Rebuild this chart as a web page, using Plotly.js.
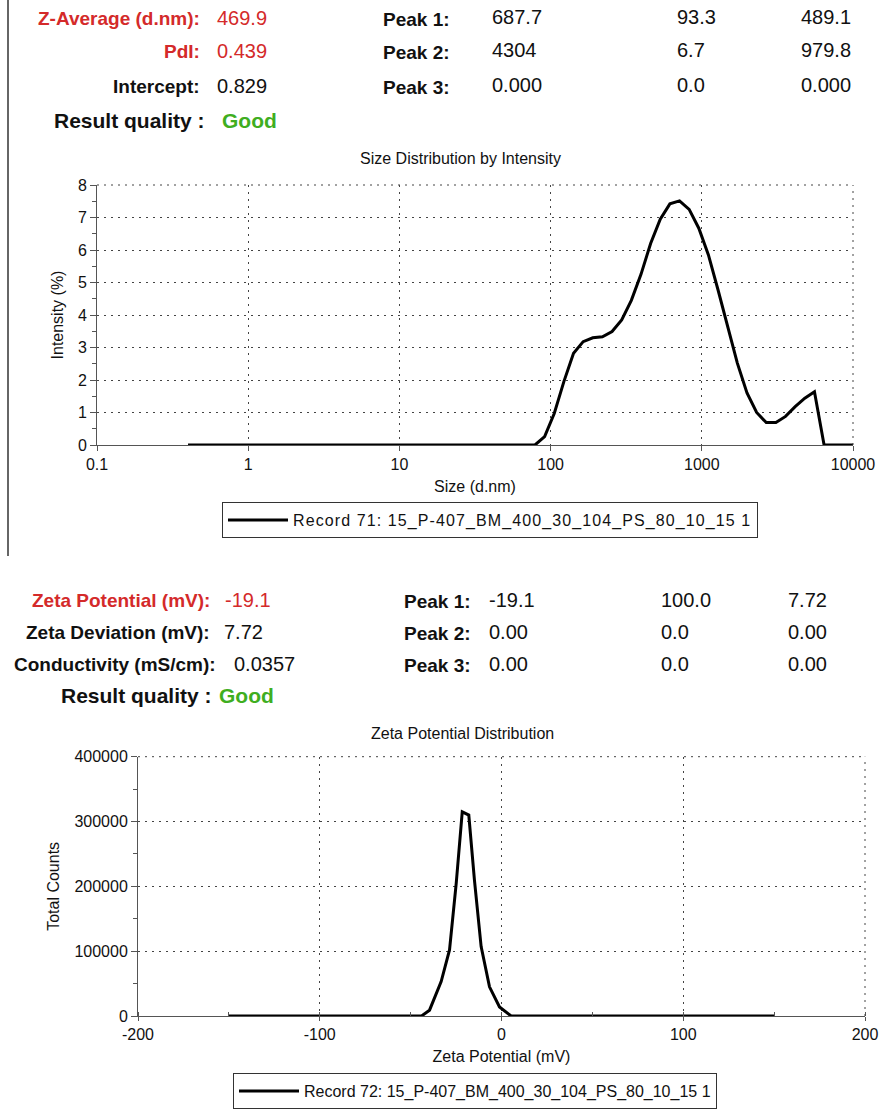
<!DOCTYPE html>
<html>
<head>
<meta charset="utf-8">
<script src="https://cdn.plot.ly/plotly-3.0.1.min.js"></script>
<style>
  html, body { margin: 0; padding: 0; background: #fff; }
  #chart { width: 881px; height: 1111px; }
  /* record captions in the legends are set with a little extra tracking */
  .legendtext { letter-spacing: 1.1px; }
</style>
</head>
<body>
<div id="chart"></div>
<script>
// ---- Size distribution (DLS) ----
const sizeNm = [0.4, 78.82, 91.28, 105.7, 122.4, 141.8, 164.2, 190.1, 220.2, 255.0,
  295.3, 342.0, 396.1, 458.7, 531.2, 615.1, 712.4, 825.0, 955.4, 1106,
  1281, 1484, 1718, 1990, 2305, 2669, 3091, 3580, 4145, 4801,
  5560, 6439, 7456, 8635, 10000];
const intensityPct = [0, 0, 0.26, 0.97, 1.95, 2.82, 3.18, 3.30, 3.33, 3.49,
  3.85, 4.45, 5.25, 6.2, 6.95, 7.42, 7.51, 7.25, 6.67, 5.85,
  4.77, 3.64, 2.52, 1.6, 1.0, 0.69, 0.69, 0.88, 1.18, 1.44,
  1.64, 0, 0, 0, 0];
const sizeTickVals = [0.1, 1, 10, 100, 1000, 10000];
const sizeTickText = ['0.1', '1', '10', '100', '1000', '10000'];
const sizeRecord = 'Record 71: 15_P-407_BM_400_30_104_PS_80_10_15 1';

// ---- Zeta potential distribution ----
const zetaMv = [-150, -44, -39.6, -33.2, -28.6, -24.9, -21.6, -18.0, -14.9, -11.2, -6.6, -1.1, 5.3, 150];
const totalCounts = [0, 0, 9000, 53000, 102000, 205000, 315000, 310000, 210000, 107000, 45000, 14000, 0, 0];
const zetaTickVals = [-200, -100, 0, 100, 200];
const zetaTickText = ['-200', '-100', '0', '100', '200'];
const zetaRecord = 'Record 72: 15_P-407_BM_400_30_104_PS_80_10_15 1';

// ---- Summary tables ----
const sizeSummaryLabels = ['Z-Average (d.nm):', 'PdI:', 'Intercept:'];
const sizeSummaryValues = ['469.9', '0.439', '0.829'];
const sizeSummaryRed = [true, true, false];
const sizePeakNames = ['Peak 1:', 'Peak 2:', 'Peak 3:'];
const sizePeakMean = ['687.7', '4304', '0.000'];
const sizePeakPct = ['93.3', '6.7', '0.0'];
const sizePeakWidth = ['489.1', '979.8', '0.000'];

const zetaSummaryLabels = ['Zeta Potential (mV):', 'Zeta Deviation (mV):', 'Conductivity (mS/cm):'];
const zetaSummaryValues = ['-19.1', '7.72', '0.0357'];
const zetaSummaryRed = [true, false, false];
const zetaPeakNames = ['Peak 1:', 'Peak 2:', 'Peak 3:'];
const zetaPeakMean = ['-19.1', '0.00', '0.00'];
const zetaPeakPct = ['100.0', '0.0', '0.0'];
const zetaPeakWidth = ['7.72', '0.00', '0.00'];

const qualityLabel = 'Result quality :';
const qualityValue = 'Good';

const W = 881, H = 1111;
const RED = '#d42a2a', GREEN = '#3fae1f', INK = '#111';
const SANS = '"Liberation Sans", Arial, Helvetica, sans-serif';
const LABEL_SIZE = 19, VALUE_SIZE = 20, QUALITY_SIZE = 21;

const px = x => x / W;
const py = y => 1 - y / H;

const annotations = [];
function label(text, x, y, anchor, opts) {
  opts = opts || {};
  annotations.push({
    xref: 'paper', yref: 'paper', x: px(x), y: py(y),
    xanchor: anchor, yanchor: 'middle', showarrow: false, text: text,
    font: { family: SANS, size: opts.size || VALUE_SIZE, color: opts.color || INK }
  });
}
const bold = t => '<b>' + t + '</b>';

// Size summary block
const sizeRowsY = [18, 51, 86];
sizeSummaryLabels.forEach((t, i) => {
  const c = sizeSummaryRed[i] ? RED : INK;
  label(bold(t), 202, sizeRowsY[i], 'right', { color: c, size: LABEL_SIZE });
  label(sizeSummaryValues[i], 215, sizeRowsY[i], 'left', { color: c });
  label(bold(sizePeakNames[i]), 381, sizeRowsY[i] + 2, 'left', { size: LABEL_SIZE });
  label(sizePeakMean[i], 490, sizeRowsY[i] - 1, 'left');
  label(sizePeakPct[i], 675, sizeRowsY[i] - 1, 'left');
  label(sizePeakWidth[i], 799, sizeRowsY[i] - 1, 'left');
});
label(bold(qualityLabel), 207, 121, 'right', { size: QUALITY_SIZE });
label(bold(qualityValue), 220, 121, 'left', { color: GREEN, size: QUALITY_SIZE });

// Zeta summary block
const zetaRowsY = [600, 632, 664];
const zetaLabelEnd = [212, 212, 218];
const zetaValueStart = [223, 222, 232];
zetaSummaryLabels.forEach((t, i) => {
  const c = zetaSummaryRed[i] ? RED : INK;
  label(bold(t), zetaLabelEnd[i], zetaRowsY[i], 'right', { color: c, size: LABEL_SIZE });
  label(zetaSummaryValues[i], zetaValueStart[i], zetaRowsY[i], 'left', { color: c });
  label(bold(zetaPeakNames[i]), 402, zetaRowsY[i] + 1, 'left', { size: LABEL_SIZE });
  label(zetaPeakMean[i], 487, zetaRowsY[i], 'left');
  label(zetaPeakPct[i], 659, zetaRowsY[i], 'left');
  label(zetaPeakWidth[i], 786, zetaRowsY[i], 'left');
});
label(bold(qualityLabel), 214, 695, 'right', { size: QUALITY_SIZE });
label(bold(qualityValue), 217, 695, 'left', { color: GREEN, size: QUALITY_SIZE });

// Plot titles
label('Size Distribution by Intensity', 460, 158, 'center', { size: 16 });
label('Zeta Potential Distribution', 462, 733, 'center', { size: 16 });

const DOTS = '2px,5px';
const gridStyle = { showgrid: true, gridcolor: '#444', gridwidth: 1, griddash: DOTS };
const axisLine = { showline: true, linecolor: '#555', linewidth: 1, tickcolor: '#555', zeroline: false };
const tickFont = { family: SANS, size: 16, color: INK };
const titleFont = { family: SANS, size: 16, color: INK };

const traces = [
  {
    x: sizeNm, y: intensityPct, type: 'scatter', mode: 'lines', name: sizeRecord,
    line: { color: '#000', width: 3 }, xaxis: 'x', yaxis: 'y', legend: 'legend'
  },
  {
    x: zetaMv, y: totalCounts, type: 'scatter', mode: 'lines', name: zetaRecord,
    line: { color: '#000', width: 3 }, xaxis: 'x2', yaxis: 'y2', legend: 'legend2'
  }
];

const legendBase = {
  xanchor: 'left', yanchor: 'bottom', bgcolor: '#fff', bordercolor: '#333', borderwidth: 1,
  font: { family: SANS, size: 16, color: INK }, itemwidth: 60, tracegroupgap: 0
};

// dotted frame edges along the top and right of each plot area
function frameEdges(xr, yr) {
  const line = { color: '#444', width: 1, dash: DOTS };
  return [
    { type: 'line', xref: xr + ' domain', yref: yr + ' domain', x0: 0, x1: 1, y0: 1, y1: 1, line: line },
    { type: 'line', xref: xr + ' domain', yref: yr + ' domain', x0: 1, x1: 1, y0: 0, y1: 1, line: line }
  ];
}

const layout = {
  width: W, height: H,
  margin: { l: 0, r: 0, t: 0, b: 0, autoexpand: false },
  paper_bgcolor: '#fff', plot_bgcolor: '#fff',
  font: { family: SANS, size: 15, color: INK },
  showlegend: true,
  legend: Object.assign({ x: px(222), y: py(538) }, legendBase),
  legend2: Object.assign({ x: px(233), y: py(1109) }, legendBase),
  xaxis: Object.assign({
    domain: [px(97), px(853)], anchor: 'y', type: 'log', range: [-1, 4],
    tickmode: 'array', tickvals: sizeTickVals, ticktext: sizeTickText,
    ticks: 'outside', ticklen: 5, tickfont: tickFont,
    title: { text: 'Size (d.nm)', font: titleFont, standoff: 8 }
  }, gridStyle, axisLine),
  // companion log axis carrying the per-digit minor ticks of the size axis
  xaxis3: {
    overlaying: 'x', anchor: 'y', side: 'bottom', type: 'log', range: [-1, 4],
    tickmode: 'linear', tick0: 0, dtick: 'D1', ticks: 'inside', ticklen: 4, tickcolor: '#444',
    showticklabels: false, showgrid: false, showline: false, zeroline: false
  },
  yaxis: Object.assign({
    domain: [py(445), py(185)], anchor: 'x', range: [0, 8], dtick: 1,
    ticks: 'outside', ticklen: 6, tickfont: tickFont,
    minor: { ticks: 'outside', ticklen: 4, tickcolor: '#555', showgrid: false, dtick: 0.5 },
    title: { text: 'Intensity (%)', font: titleFont, standoff: 10 }
  }, gridStyle, axisLine),
  xaxis2: Object.assign({
    domain: [px(138), px(865)], anchor: 'y2', range: [-200, 200],
    tickmode: 'array', tickvals: zetaTickVals, ticktext: zetaTickText,
    ticks: 'outside', ticklen: 4, tickfont: tickFont,
    minor: { tickmode: 'linear', dtick: 50, ticks: 'inside', ticklen: 4, tickcolor: '#555', showgrid: false },
    title: { text: 'Zeta Potential (mV)', font: titleFont, standoff: 8 }
  }, gridStyle, axisLine),
  yaxis2: Object.assign({
    domain: [py(1016), py(756.7)], anchor: 'x2', range: [0, 400000], dtick: 100000,
    tickformat: 'd', ticks: 'outside', ticklen: 6, tickfont: tickFont,
    minor: { ticks: 'outside', ticklen: 4, tickcolor: '#555', showgrid: false, dtick: 50000 },
    title: { text: 'Total Counts', font: titleFont, standoff: 10 }
  }, gridStyle, axisLine),
  annotations: annotations,
  shapes: [
    // page rule on the left of the size report
    { type: 'line', xref: 'paper', yref: 'paper', x0: px(8), x1: px(8), y0: py(0), y1: py(556),
      line: { color: '#333', width: 1.5 } }
  ].concat(frameEdges('x', 'y'), frameEdges('x2', 'y2'))
};

Plotly.newPlot('chart', traces, layout, { staticPlot: true, displayModeBar: false });
</script>
</body>
</html>
